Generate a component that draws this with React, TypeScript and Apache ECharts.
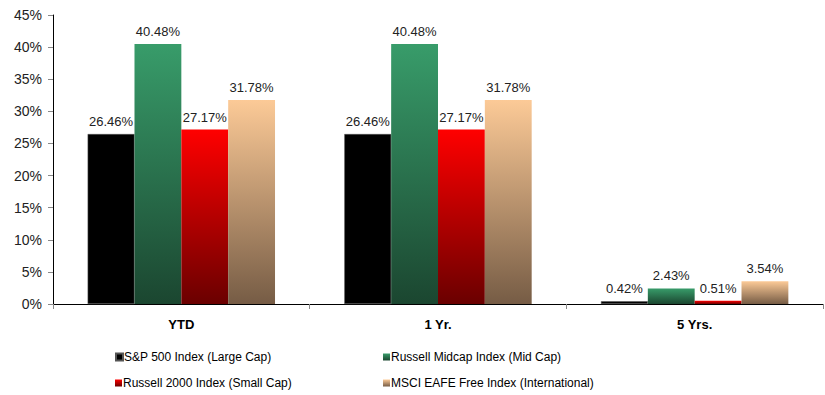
import React, { useEffect, useRef } from "react";
import * as echarts from "echarts";

const categories = ["YTD", "1 Yr.", "5 Yrs."];
const seriesNames = [
  "S&P 500 Index (Large Cap)",
  "Russell Midcap Index (Mid Cap)",
  "Russell 2000 Index (Small Cap)",
  "MSCI EAFE Free Index (International)",
];
const sp500 = [26.46, 26.46, 0.42];
const midcap = [40.48, 40.48, 2.43];
const russell2000 = [27.17, 27.17, 0.51];
const eafe = [31.78, 31.78, 3.54];

const grad = (top: string, bottom: string) =>
  new echarts.graphic.LinearGradient(0, 0, 0, 1, [
    { offset: 0, color: top },
    { offset: 1, color: bottom },
  ]);

export default function App() {
  const ref = useRef<HTMLDivElement>(null);
  useEffect(() => {
    if (!ref.current) return;
    const chart = echarts.init(ref.current, undefined, { renderer: "svg" });
    const font = "Liberation Sans, Arial, sans-serif";
    const label = {
      show: true,
      position: "top" as const,
      formatter: (p: any) => p.value.toFixed(2) + "%",
      color: "#222",
      fontSize: 13,
      fontFamily: font,
      distance: 6,
    };
    const colors = [
      "#000000",
      grad("#389c6a", "#1b4630"),
      grad("#ff0000", "#6a0000"),
      grad("#fcca97", "#765c45"),
    ];
    const datas = [sp500, midcap, russell2000, eafe];
    const legendCommon = {
      orient: "horizontal" as const,
      itemWidth: 7,
      itemHeight: 7,
      icon: "rect",
      padding: 0,
      textStyle: { fontFamily: font, fontSize: 12, color: "#000", padding: [0, 0, 0, -4] },
    };
    const legendPos = [
      { left: 115, top: 351 },
      { left: 383, top: 351 },
      { left: 115, top: 377 },
      { left: 383, top: 377 },
    ];
    chart.setOption({
      animation: false,
      backgroundColor: "#fff",
      grid: { left: 53, right: 2, top: 15, bottom: 91, containLabel: false },
      legend: seriesNames.map((n, i) => ({ ...legendCommon, ...legendPos[i], data: [n] })),
      xAxis: {
        type: "category",
        data: categories,
        axisLine: { lineStyle: { color: "#000" } },
        axisTick: { show: true, length: 5, lineStyle: { color: "#888" } },
        axisLabel: { color: "#000", fontWeight: "bold", fontFamily: font, fontSize: 13, margin: 14 },
      },
      yAxis: {
        type: "value",
        min: 0,
        max: 45,
        interval: 5,
        splitLine: { show: false },
        axisLine: { show: true, lineStyle: { color: "#000" } },
        axisTick: { show: true, length: 5, lineStyle: { color: "#888" } },
        axisLabel: { formatter: "{value}%", color: "#222", fontFamily: font, fontSize: 14, margin: 11 },
      },
      series: seriesNames.map((name, i) => ({
        name,
        type: "bar",
        data: datas[i],
        barGap: "0%",
        barCategoryGap: "27%",
        itemStyle: { color: colors[i], borderColor: i === 0 ? "#555" : undefined, borderWidth: i === 0 ? 0.5 : 0 },
        label,
      })),
    });
    return () => chart.dispose();
  }, []);
  return <div ref={ref} style={{ width: 825, height: 395, position: "absolute", left: 0, top: 0 }} />;
}
